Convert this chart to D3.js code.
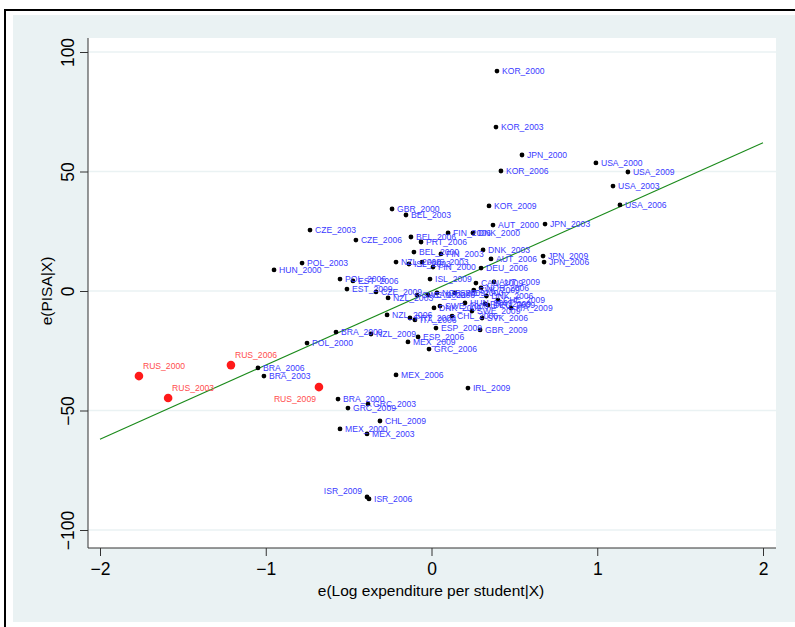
<!DOCTYPE html>
<html>
<head>
<meta charset="utf-8">
<script src="https://cdn.jsdelivr.net/npm/d3@7"></script>
<style>
  html, body { margin: 0; padding: 0; background: #ffffff; }
  svg { display: block; }
  text { font-family: "Liberation Sans", Arial, sans-serif; }
</style>
</head>
<body>
<svg id="chart" width="795" height="627"></svg>
<script>
// Partial regression (added-variable) plot: PISA residual vs. log expenditure residual
const labels = [
  "KOR_2000","KOR_2003","JPN_2000","KOR_2006","USA_2000","USA_2009","USA_2003","USA_2006",
  "KOR_2009","GBR_2000","BEL_2003","AUT_2000","JPN_2003","CZE_2003","CZE_2006","BEL_2006",
  "PRT_2006","FIN_2006","DNK_2000","FIN_2000","FIN_2003","BEL_2000","NZL_2000","ISL_2003",
  "AUS_2003","ISL_2009","CAN_2009","AUT_2009","DNK_2003","AUT_2006","JPN_2009","JPN_2006",
  "DEU_2006","IRL_2009","MEX_2006","BRA_2009","NZL_2009","POL_2000","BRA_2006","BRA_2003",
  "BRA_2000","GRC_2003","GRC_2009","CHL_2009","MEX_2000","MEX_2003","ISR_2009","ISR_2006",
  "GRC_2006","MEX_2009","ESP_2006","NZL_2006","PRT_2003","ITA_2006","ESP_2009","GBR_2009",
  "SVK_2006","CHL_2006","SWE_2006","HUN_2000","POL_2003","POL_2006","EST_2006","EST_2009",
  "CZE_2009","NZL_2003","SWE_2003","CAN_2003","NOR_2009","DNK_2009","SWE_2009","FRA_2009",
  "DEU_2009","CHE_2009","ITA_2009","HUN_2009","SVK_2009","NOR_2006","DNK_2006","SWE_2000",
  "RUS_2000","RUS_2006","RUS_2003","RUS_2009"
];
const expResid = [
  0.395,0.389,0.546,0.419,0.992,1.185,1.095,1.137,
  0.347,-0.238,-0.154,0.371,0.685,-0.733,-0.456,-0.124,
  -0.063,0.100,0.250,0.009,0.057,-0.106,-0.214,-0.136,
  -0.057,-0.009,0.268,0.377,0.311,0.359,0.673,0.679,
  0.299,0.220,-0.214,-0.576,-0.365,-0.751,-1.047,-1.011,
  -0.564,-0.383,-0.504,-0.311,-0.552,-0.389,-0.389,-0.377,
  -0.015,-0.142,-0.081,-0.268,-0.130,-0.100,0.027,0.293,
  0.305,0.124,0.051,-0.950,-0.781,-0.552,-0.474,-0.510,
  -0.335,-0.262,-0.087,-0.021,0.033,0.015,0.244,0.323,
  0.341,0.401,0.480,0.202,0.255,0.299,0.331,0.140,
  -1.765,-1.210,-1.589,-0.679
];
const pisaResid = [
  92.0,68.6,56.9,50.2,53.6,49.8,43.9,36.0,
  35.6,34.3,31.8,27.6,28.0,25.5,21.3,22.6,
  20.5,24.3,24.3,10.0,15.5,16.3,12.1,11.3,
  12.1,5.0,3.3,3.8,17.2,13.4,14.6,12.1,
  9.6,-40.6,-35.1,-17.2,-18.0,-21.8,-32.2,-35.6,
  -45.2,-47.3,-49.0,-54.4,-57.7,-59.8,-86.2,-87.0,
  -24.3,-21.3,-19.2,-10.0,-11.3,-12.1,-15.5,-16.3,
  -11.3,-10.5,-6.3,8.8,11.7,5.0,4.2,0.8,
  -0.4,-2.9,-1.7,-1.7,-0.8,-7.1,-8.4,-5.4,
  -5.9,-3.8,-7.1,-5.0,0.4,1.3,-2.1,-0.8,
  -35.6,-31.0,-44.8,-40.2
];
// Highlighted country (drawn in red)
const highlight = "RUS";
// Label placement: default to the right; a few placed elsewhere
const labelPos = { "ISR_2009": "left", "RUS_2000": "up", "RUS_2006": "up", "RUS_2003": "up", "RUS_2009": "downleft" };

// Fitted line
const fitSlope = 31.0;
const fitIntercept = 0.0;
const fitRange = [-2, 2];

const xTicks = [-2, -1, 0, 1, 2];
const yTicks = [-100, -50, 0, 50, 100];
const xTitle = "e(Log expenditure per student|X)";
const yTitle = "e(PISA|X)";

const svg = d3.select("#chart");
const W = 795, H = 627;
const plot = { left: 88, right: 776, top: 38, bottom: 548 };

// Graph region: outer frame and tinted background
svg.append("rect").attr("x", 0).attr("y", 0).attr("width", W).attr("height", H).attr("fill", "#ffffff");
svg.append("rect").attr("x", 13).attr("y", 15).attr("width", W - 13).attr("height", 607).attr("fill", "#eaf2f3");
svg.append("rect").attr("x", 5).attr("y", 10).attr("width", W + 20).attr("height", H + 20)
  .attr("fill", "none").attr("stroke", "#000").attr("stroke-width", 2);

// Plot region
svg.append("rect").attr("x", plot.left).attr("y", plot.top)
  .attr("width", plot.right - plot.left).attr("height", plot.bottom - plot.top).attr("fill", "#ffffff");

const x = d3.scaleLinear().domain([-2, 2]).range([100, 763]);
const y = d3.scaleLinear().domain([-100, 100]).range([530, 52]);

// Horizontal grid
svg.append("g").selectAll("line").data(yTicks).join("line")
  .attr("x1", plot.left).attr("x2", plot.right)
  .attr("y1", d => y(d)).attr("y2", d => y(d))
  .attr("stroke", "#eaf2f3").attr("stroke-width", 1.5);

// Axes
const yAxis = d3.axisLeft(y).tickValues(yTicks).tickSize(8).tickFormat(d3.format("d"));
const gy = svg.append("g").attr("transform", `translate(${plot.left},0)`).call(yAxis);
gy.select(".domain").attr("d", `M0,${plot.top}V${plot.bottom}`).attr("stroke", "#333");
gy.selectAll(".tick line").attr("stroke", "#333");
gy.selectAll(".tick text")
  .attr("font-size", 17.5).attr("fill", "#000")
  .attr("text-anchor", "middle")
  .attr("transform", "rotate(-90)")
  .attr("x", 0).attr("dy", 0)
  .attr("y", -14);

const xAxis = d3.axisBottom(x).tickValues(xTicks).tickSize(8).tickPadding(7).tickFormat(d3.format("d"));
const gx = svg.append("g").attr("transform", `translate(0,${plot.bottom})`).call(xAxis);
gx.select(".domain").attr("d", `M${plot.left},0H${plot.right}`).attr("stroke", "#333");
gx.selectAll(".tick line").attr("stroke", "#333");
gx.selectAll(".tick text").attr("font-size", 17.5).attr("fill", "#000");
svg.selectAll(".tick text").attr("font-family", "Liberation Sans, Arial, sans-serif");

// Axis titles
svg.append("text").attr("x", (plot.left + plot.right) / 2 - 1).attr("y", 596)
  .attr("text-anchor", "middle").attr("font-size", 15.5).text(xTitle);
svg.append("text").attr("transform", `translate(52,${y(0)}) rotate(-90)`)
  .attr("text-anchor", "middle").attr("font-size", 15.5).text(yTitle);

// Fitted line
svg.append("line")
  .attr("x1", x(fitRange[0])).attr("y1", y(fitIntercept + fitSlope * fitRange[0]))
  .attr("x2", x(fitRange[1])).attr("y2", y(fitIntercept + fitSlope * fitRange[1]))
  .attr("stroke", "#1a8a1a").attr("stroke-width", 1.1);

// Points and labels
const pts = labels.map((l, i) => ({ label: l, ex: expResid[i], py: pisaResid[i], hi: l.startsWith(highlight) }));
const gp = svg.append("g");
gp.selectAll("circle").data(pts).join("circle")
  .attr("cx", d => x(d.ex)).attr("cy", d => y(d.py))
  .attr("r", d => d.hi ? 4.3 : 2.4)
  .attr("fill", d => d.hi ? "#ff1a1a" : "#000");

gp.selectAll("text").data(pts).join("text")
  .attr("font-size", 8.6)
  .attr("fill", d => d.hi ? "#ff4d4d" : "#3a3aff")
  .attr("x", d => {
    const p = labelPos[d.label];
    if (p === "left") return x(d.ex) - 5;
    if (p === "downleft") return x(d.ex) - 3;
    return x(d.ex) + (p === "up" ? 4 : 5);
  })
  .attr("y", d => {
    const p = labelPos[d.label];
    if (p === "up") return y(d.py) - 7;
    if (p === "downleft") return y(d.py) + 15;
    if (p === "left") return y(d.py) - 3;
    return y(d.py) + 3;
  })
  .attr("text-anchor", d => {
    const p = labelPos[d.label];
    return (p === "left" || p === "downleft") ? "end" : "start";
  })
  .text(d => d.label);
</script>
</body>
</html>
